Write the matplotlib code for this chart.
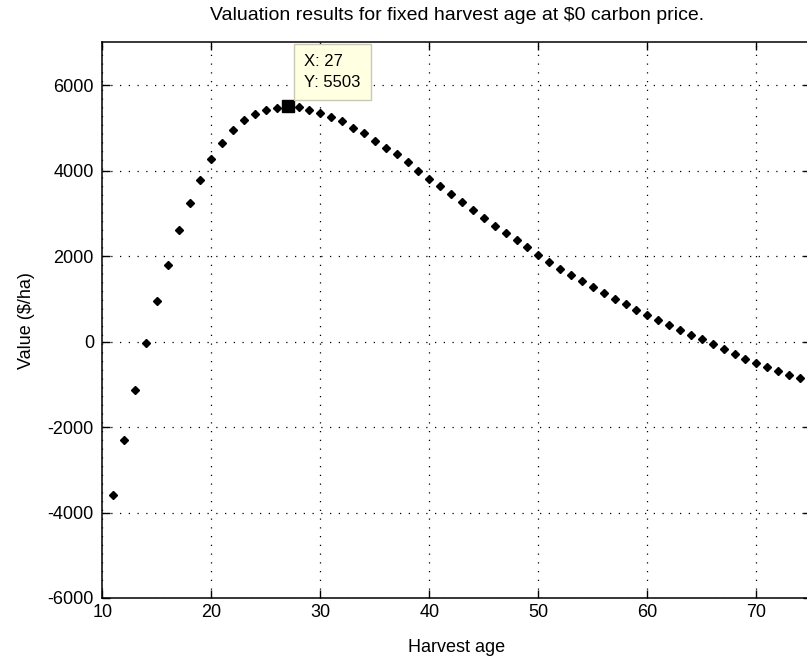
import matplotlib
matplotlib.use("Agg")
import matplotlib.pyplot as plt

# harvest age (years) and stand value ($/ha) at $0 carbon price
ages = list(range(11, 75))
values = [
    -3600, -2310, -1130, -30, 950, 1800, 2600, 3240, 3790, 4270,
    4650, 4950, 5180, 5330, 5410, 5470, 5503, 5490, 5420, 5340,
    5250, 5150, 5000, 4870, 4690, 4530, 4380, 4200, 4000, 3810,
    3650, 3460, 3270, 3090, 2900, 2710, 2550, 2370, 2210, 2020,
    1870, 1710, 1560, 1410, 1270, 1140, 1000, 870, 740, 615,
    500, 390, 280, 165, 50, -60, -175, -290, -400, -490,
    -590, -700, -780, -855,
]
tip_age = 27
tip_value = 5503

xticks = [10, 20, 30, 40, 50, 60, 70]
yticks = [-6000, -4000, -2000, 0, 2000, 4000, 6000]

plt.rcParams["font.family"] = ["Liberation Sans", "DejaVu Sans"]
plt.rcParams["axes.unicode_minus"] = False

fig = plt.figure(figsize=(8.07, 6.59), dpi=100)
# axes runs slightly past the right edge, as in the cropped original
ax = fig.add_axes([0.1268, 0.0926, 0.878, 0.843])

ax.plot(ages, values, linestyle="none", marker="D", markersize=4.5,
        color="black", zorder=3)
ax.plot([tip_age], [tip_value], linestyle="none", marker="s", markersize=9,
        color="black", zorder=4)

ax.set_xlim(10, 75)
ax.set_ylim(-6000, 7000)
ax.set_xticks(xticks)
ax.set_yticks(yticks)
ax.tick_params(direction="in", length=5.5, width=1, top=True, right=True,
               labelsize=13, pad=6)
ax.tick_params(axis="x", pad=4)
ax.grid(True, color="black", linestyle=(0, (1, 6)), linewidth=0.9)
for sp in ax.spines.values():
    sp.set_linewidth(1.1)

ax.set_title("Valuation results for fixed harvest age at $0 carbon price.",
             fontsize=14, pad=16)
ax.set_xlabel("Harvest age", fontsize=13, labelpad=13)
ax.set_ylabel("Value ($/ha)", fontsize=13, labelpad=9)

# data tip box
ax.annotate(f"X: {tip_age}\nY: {tip_value}", xy=(tip_age, tip_value),
            xytext=(12, 12), textcoords="offset points", fontsize=12,
            va="bottom", ha="left", linespacing=1.45, annotation_clip=False,
            bbox=dict(boxstyle="square,pad=0.6", fc="#ffffe1", ec="#c8c8b4",
                      lw=1), zorder=5)

fig.savefig("out.png", dpi=100)
